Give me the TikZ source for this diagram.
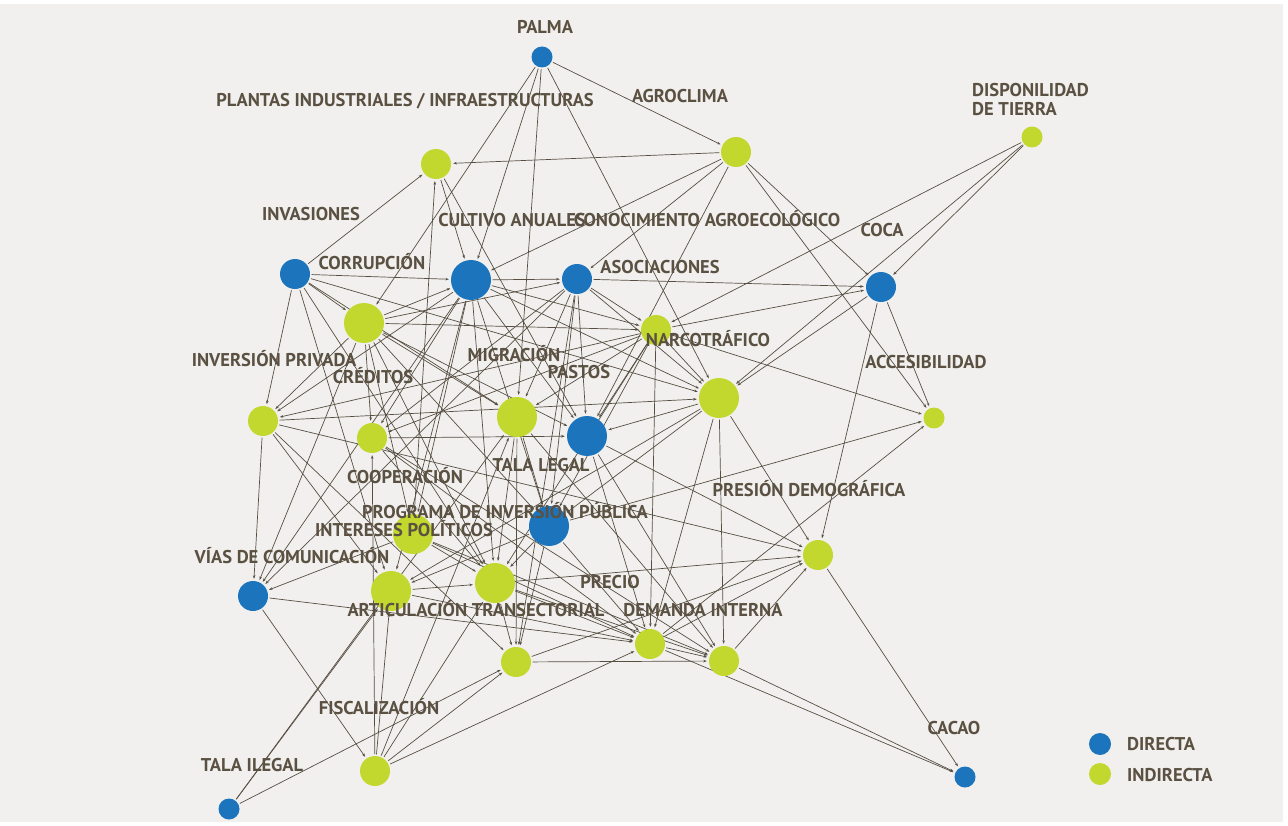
\documentclass[tikz,border=0pt]{standalone}
\usepackage{fontspec}
\setmainfont{PT Sans}
\usetikzlibrary{arrows.meta,backgrounds}
\definecolor{bgc}{HTML}{F1F0EE}
\definecolor{dirc}{HTML}{1C75BC}
\definecolor{indc}{HTML}{C2D82E}
\definecolor{edgec}{HTML}{574E42}
\definecolor{txtc}{HTML}{5B5142}

\begin{document}
\begin{tikzpicture}[x=1pt,y=-1pt,
  dir/.style={circle,fill=dirc,inner sep=0pt,minimum size=#1},
  ind/.style={circle,fill=indc,inner sep=0pt,minimum size=#1},
  lbl/.style={text=txtc,font=\fontsize{18.5}{20}\selectfont\bfseries,inner sep=0pt,text height=12.5pt,text depth=0pt},
  link/.style={draw=edgec,line width=0.7pt,-{Stealth[length=3.6pt,width=2.6pt]},shorten >=2pt,shorten <=1.5pt}
]
\useasboundingbox (0,0) rectangle (1288,826);

% factors
\node[dir=21pt] (P) at (542,57) {};
\node[ind=30pt] (PL) at (436,164) {};
\node[ind=30pt] (AG) at (736,152) {};
\node[ind=21pt] (DT) at (1032,137) {};
\node[dir=30pt] (IN) at (295,274) {};
\node[dir=40pt] (CA) at (471,280) {};
\node[dir=30pt] (AS) at (577,279) {};
\node[dir=30pt] (CO) at (881,287) {};
\node[ind=40pt] (CR) at (364,323) {};
\node[ind=30pt] (NA) at (656,330) {};
\node[ind=40pt] (BG) at (719,398) {};
\node[ind=30pt] (IP) at (263,421) {};
\node[ind=30pt] (CRE) at (372,438) {};
\node[ind=40pt] (MI) at (517,417) {};
\node[ind=21pt] (AC) at (934,418) {};
\node[dir=40pt] (PA) at (587,436) {};
\node[ind=40pt] (COOP) at (413,534) {};
\node[dir=40pt] (TL) at (549,526) {};
\node[ind=40pt] (PIP) at (495,583) {};
\node[ind=40pt] (IPOL) at (391,591) {};
\node[dir=30pt] (VI) at (253,596) {};
\node[ind=30pt] (PD) at (818,555) {};
\node[ind=30pt] (PR) at (650,644) {};
\node[ind=30pt] (ART) at (516,662) {};
\node[ind=30pt] (DI) at (724,661) {};
\node[ind=30pt] (FI) at (375,771) {};
\node[dir=21pt] (TI) at (229,809) {};
\node[dir=21pt] (CAC) at (965,777) {};

% labels
\node[lbl] (lP) at (545,27) {PALMA};
\node[lbl] (lPL) at (405,100) {PLANTAS INDUSTRIALES / INFRAESTRUCTURAS};
\node[lbl] (lAG) at (680,96) {AGROCLIMA};
\node[lbl,anchor=west,align=left,text height=,text depth=] (lDT) at (972,99) {DISPONILIDAD\\[-1pt]DE TIERRA};
\node[lbl] (lIN) at (311,214) {INVASIONES};
\node[lbl] (lCA) at (512,220) {CULTIVO ANUALES};
\node[lbl] (lCAE) at (707,220) {CONOCIMIENTO AGROECOLÓGICO};
\node[lbl] (lCO) at (882,230) {COCA};
\node[lbl] (lCR) at (372,263) {CORRUPCIÓN};
\node[lbl] (lAS) at (660,267) {ASOCIACIONES};
\node[lbl] (lIP) at (274,360) {INVERSIÓN PRIVADA};
\node[lbl] (lMI) at (514,355) {MIGRACIÓN};
\node[lbl] (lCRE) at (373,377) {CRÉDITOS};
\node[lbl] (lPA) at (579,372) {PASTOS};
\node[lbl] (lNA) at (708,340) {NARCOTRÁFICO};
\node[lbl] (lAC) at (926,362) {ACCESIBILIDAD};
\node[lbl] (lCOOP) at (405,477) {COOPERACIÓN};
\node[lbl] (lTL) at (541,465) {TALA LEGAL};
\node[lbl] (lPIP) at (505,512) {PROGRAMA DE INVERSIÓN PÚBLICA};
\node[lbl] (lIPOL) at (404,530) {INTERESES POLÍTICOS};
\node[lbl] (lVI) at (292,557) {VÍAS DE COMUNICACIÓN};
\node[lbl] (lPD) at (809,490) {PRESIÓN DEMOGRÁFICA};
\node[lbl] (lPR) at (610,582) {PRECIO};
\node[lbl] (lART) at (476,610) {ARTICULACIÓN TRANSECTORIAL};
\node[lbl] (lDI) at (703,610) {DEMANDA INTERNA};
\node[lbl] (lFI) at (379,708) {FISCALIZACIÓN};
\node[lbl] (lTI) at (252,765) {TALA ILEGAL};
\node[lbl] (lCAC) at (954,728) {CACAO};

% legend
\node[dir=22pt] (kD) at (1100,744) {};
\node[ind=22pt] (kI) at (1100,774) {};
\node[lbl,anchor=west] (lkD) at (1127,744) {DIRECTA};
\node[lbl,anchor=west] (lkI) at (1127,775) {INDIRECTA};

\begin{scope}[on background layer]
\fill[white] (0,0) rectangle (1288,826);
\fill[bgc] (0,4) rectangle (1283,822);
\foreach \a/\b in {
  P/CR, P/CA, P/MI, P/BG, P/AG,
  AG/PL, AG/CA, AG/AS, AG/PA, AG/CO, AG/AC,
  IN/PL, COOP/PL, PL/CA, PL/PA,
  DT/NA, DT/BG, DT/CO,
  AS/CO, NA/CO, CO/BG, CO/PD, CO/AC,
  NA/AC, TL/AC, PR/AC,
  BG/PD, PA/PD, PIP/PD, PR/PD, DI/PD, ART/PD, IP/PD,
  PD/CAC, DI/CAC, PR/CAC,
  IN/CA, IN/CR, IN/IP, IN/IPOL, IN/BG, IN/MI, IN/PIP,
  CR/CA, CR/AS, CR/NA, CR/IP, CR/VI, CR/CRE, CR/PA, CR/TL, CR/PIP, CR/COOP, CR/MI,
  CA/AS, CA/NA, CA/BG, CA/VI, CA/CRE, CA/COOP, CA/IPOL, CA/PIP, CA/TL, CA/PA, CA/IP,
  AS/NA, AS/BG, AS/PA, AS/MI, AS/CRE, AS/VI, AS/ART, AS/TL,
  NA/BG, NA/PR, NA/IP, NA/CRE, NA/MI, NA/PIP, NA/TL, NA/PA,
  BG/DI, BG/PR, BG/PA, BG/IPOL, BG/TL, IP/BG,
  MI/ART, MI/PIP, MI/TL, MI/DI,
  CRE/PA, CRE/PR, CRE/PIP, CRE/DI,
  PA/PR, PA/DI,
  TL/ART, TL/PR, TL/IPOL, TL/PIP,
  PIP/PR, PIP/DI, PIP/ART, IPOL/PIP,
  IPOL/PR, ART/DI, PR/DI,
  COOP/PIP, COOP/PR, COOP/DI, COOP/VI,
  IP/VI, IP/ART, IP/IPOL,
  VI/PR, VI/FI,
  TI/IPOL, TI/MI, TI/ART,
  FI/PR, FI/ART, FI/IPOL, FI/CRE, FI/MI, FI/PIP}
  \draw[link] (\a) -- (\b);
\end{scope}
\end{tikzpicture}
\end{document}
